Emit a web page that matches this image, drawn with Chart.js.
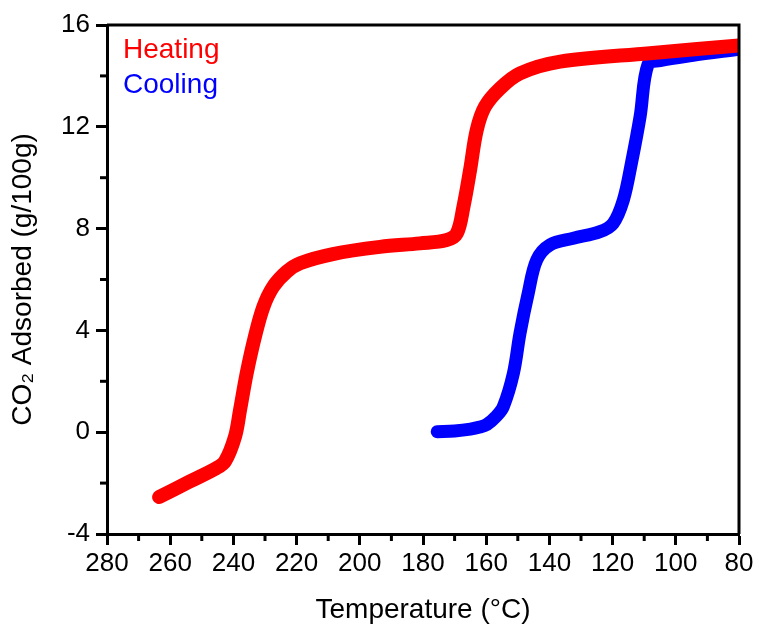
<!DOCTYPE html>
<html>
<head>
<meta charset="utf-8">
<script src="https://cdn.jsdelivr.net/npm/chart.js@4.4.1/dist/chart.umd.min.js"></script>
<style>
  html, body { margin: 0; padding: 0; background: #fff; }
  #wrap { width: 759px; height: 629px; }
</style>
</head>
<body>
<div id="wrap"><canvas id="myChart" width="759" height="629"></canvas></div>
<script>
// heating run (red)
const heatT = [263.5, 254, 245.5, 242.7, 239.5, 237.9, 235.8, 233.2, 230.5, 227.4, 223.1, 218.9, 208.5, 193.6, 181, 172.5, 169.3, 167.2, 165.1, 163, 160.4, 155.6, 149.3, 136.6, 108.2, 80];
const heatY = [-2.55, -1.95, -1.42, -1.16, -0.18, 0.87, 2.31, 3.75, 4.93, 5.72, 6.31, 6.64, 7.0, 7.28, 7.42, 7.55, 7.81, 8.86, 10.3, 11.87, 12.79, 13.51, 14.1, 14.56, 14.89, 15.2];

// cooling run (blue)
const coolT = [175.5, 170, 165, 162, 159.8, 157, 154.6, 151.4, 149.3, 146.7, 144, 139.8, 132.4, 124, 119.8, 116.6, 114, 111.3, 108.8, 105, 95, 80];
const coolY = [0.02, 0.05, 0.12, 0.2, 0.3, 0.6, 1.0, 2.31, 3.89, 5.46, 6.77, 7.36, 7.62, 7.88, 8.21, 9.12, 10.6, 12.4, 14.45, 14.6, 14.8, 15.05];

const xTicks = [280, 260, 240, 220, 200, 180, 160, 140, 120, 100, 80];
const yTicks = [-4, 0, 4, 8, 12, 16];

const FONT = 'Liberation Sans, Arial, sans-serif';

const toPoints = (xs, ys) => xs.map((x, i) => ({ x: x, y: ys[i] }));

// frame on top/right, minor ticks, and the coloured legend text
const extras = {
  id: 'extras',
  afterDraw(chart) {
    const { ctx, chartArea: a, scales } = chart;
    ctx.save();
    ctx.strokeStyle = '#000';
    ctx.lineWidth = 3;
    ctx.beginPath();
    ctx.moveTo(a.left, a.top);
    ctx.lineTo(a.right, a.top);
    ctx.lineTo(a.right, a.bottom);
    ctx.stroke();

    // minor ticks
    for (let v = 90; v < 280; v += 20) {
      const px = scales.x.getPixelForValue(v);
      ctx.beginPath();
      ctx.moveTo(px, a.bottom);
      ctx.lineTo(px, a.bottom + 7);
      ctx.stroke();
    }
    for (let v = -2; v < 16; v += 4) {
      const py = scales.y.getPixelForValue(v);
      ctx.beginPath();
      ctx.moveTo(a.left, py);
      ctx.lineTo(a.left - 7, py);
      ctx.stroke();
    }

    // legend
    ctx.font = '28px ' + FONT;
    ctx.textBaseline = 'alphabetic';
    ctx.textAlign = 'left';
    chart.data.datasets.forEach((ds, i) => {
      ctx.fillStyle = ds.borderColor;
      ctx.fillText(ds.label, a.left + 16, a.top + 33 + i * 35);
    });
    ctx.restore();
  }
};

const ctx = document.getElementById('myChart').getContext('2d');
new Chart(ctx, {
  type: 'line',
  data: {
    datasets: [
      {
        label: 'Heating',
        data: toPoints(heatT, heatY),
        borderColor: '#ff0000',
        borderWidth: 14,
        borderCapStyle: 'round',
        borderJoinStyle: 'round',
        tension: 0.35,
        pointRadius: 0,
        fill: false
      },
      {
        label: 'Cooling',
        data: toPoints(coolT, coolY),
        borderColor: '#0000ff',
        borderWidth: 13,
        borderCapStyle: 'round',
        borderJoinStyle: 'round',
        tension: 0.35,
        pointRadius: 0,
        fill: false
      }
    ]
  },
  options: {
    responsive: false,
    animation: false,
    layout: { padding: { top: 25, right: 20, left: 0, bottom: 0 } },
    plugins: { legend: { display: false }, tooltip: { enabled: false } },
    scales: {
      x: {
        type: 'linear',
        reverse: true,
        min: 80,
        max: 280,
        afterBuildTicks: (s) => { s.ticks = xTicks.map(v => ({ value: v })); },
        afterFit: (s) => { s.height = 95; },
        border: { display: true, color: '#000', width: 3 },
        grid: { drawOnChartArea: false, tickLength: 11, tickWidth: 3, tickColor: '#000' },
        ticks: { color: '#000', padding: 3, maxRotation: 0, autoSkip: false, font: { family: FONT, size: 26 } },
        title: {
          display: true,
          text: 'Temperature (°C)',
          color: '#000',
          padding: { top: 0, bottom: 2 },
          font: { family: FONT, size: 28 }
        }
      },
      y: {
        min: -4,
        max: 16,
        afterBuildTicks: (s) => { s.ticks = yTicks.map(v => ({ value: v })); },
        afterFit: (s) => { s.width = 107; },
        border: { display: true, color: '#000', width: 3 },
        grid: { drawOnChartArea: false, tickLength: 11, tickWidth: 3, tickColor: '#000' },
        ticks: { color: '#000', padding: 6, autoSkip: false, font: { family: FONT, size: 26 } },
        title: {
          display: true,
          text: 'CO₂ Adsorbed (g/100g)',
          color: '#000',
          padding: { top: 6, bottom: 0 },
          font: { family: FONT, size: 28 }
        }
      }
    }
  },
  plugins: [extras]
});
</script>
</body>
</html>
